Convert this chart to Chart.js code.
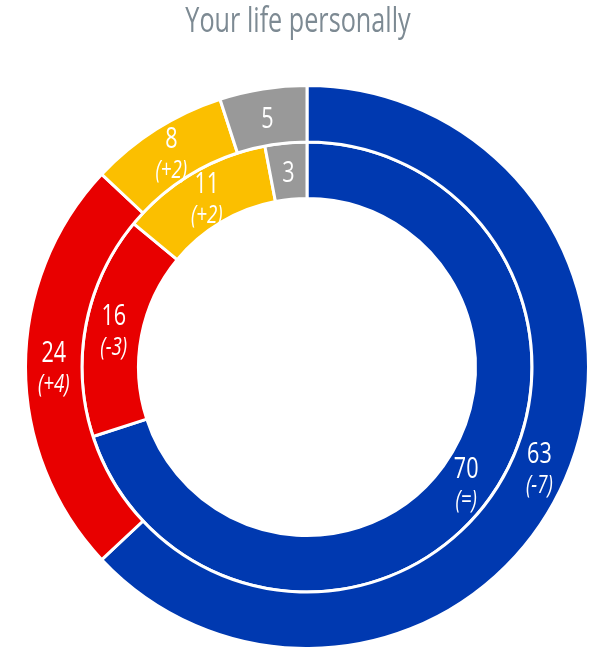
<!DOCTYPE html>
<html>
<head>
<meta charset="utf-8">
<title>Your life personally</title>
<script src="https://cdn.jsdelivr.net/npm/chart.js@4/dist/chart.umd.min.js"></script>
<style>
    body { margin: 0; background: #fff; }
    canvas { display: block; }
</style>
</head>
<body>
<canvas id="life_chart" width="598" height="647"></canvas>
<script>
// Two rings: outer = latest survey, inner = previous one

const chart_title = 'Your life personally'
const categories = ['Optimistic', 'Pessimistic', 'Neither', "Don't know"]
const outer_values = [63, 24, 8, 5]
const outer_changes = ['(-7)', '(+4)', '(+2)', '']
const inner_values = [70, 16, 11, 3]
const inner_changes = ['(=)', '(-3)', '(+2)', '']
const colours = ['#0039b0', '#e80000', '#fbbf00', '#999999']

const text_font = '"Open Sans", "DejaVu Sans Condensed", sans-serif'
const squeeze = 0.72   // no condensed font installed, so narrow the text by hand

function narrow_text(ctx, text, x, y) {
    ctx.save()
    ctx.translate(x, y)
    ctx.scale(squeeze, 1)
    ctx.fillText(text, 0, 0)
    ctx.restore()
}

// title drawn in the empty space above the chart area
const title_text = {
    id: 'title_text',
    afterDraw(chart) {
        const ctx = chart.ctx
        ctx.save()
        ctx.fillStyle = '#7d8a93'
        ctx.textAlign = 'center'
        ctx.textBaseline = 'alphabetic'
        ctx.font = '35px ' + text_font
        narrow_text(ctx, chart_title, 298, 32)
        ctx.restore()
    }
}

// write the number and its change in the middle of every slice
const slice_labels = {
    id: 'slice_labels',
    afterDatasetsDraw(chart) {
        const ctx = chart.ctx
        const changes = [outer_changes, inner_changes]
        ctx.save()
        ctx.fillStyle = '#ffffff'
        ctx.textAlign = 'center'
        ctx.textBaseline = 'alphabetic'
        chart.data.datasets.forEach((ds, d) => {
            chart.getDatasetMeta(d).data.forEach((arc, i) => {
                const p = arc.getProps(['x', 'y', 'startAngle', 'endAngle', 'innerRadius', 'outerRadius'], true)
                const a = (p.startAngle + p.endAngle) / 2
                const r = (p.innerRadius + p.outerRadius) / 2
                const x = p.x + Math.cos(a) * r
                const y = p.y + Math.sin(a) * r
                const change = changes[d][i]
                const shift = change ? 16 : 0
                ctx.font = '30px ' + text_font
                narrow_text(ctx, String(ds.data[i]), x, y - shift + 11)
                if (change) {
                    ctx.font = 'italic 26px ' + text_font
                    narrow_text(ctx, change, x, y + shift + 9)
                }
            })
        })
        ctx.restore()
    }
}

const frame = document.getElementById('life_chart')

const life_chart = new Chart(frame, {
    type: 'doughnut',
    data: {
        labels: categories,
        datasets: [
            {label: 'Now', data: outer_values, backgroundColor: colours},
            {label: 'Before', data: inner_values, backgroundColor: colours}
        ]
    },
    options: {
        responsive: false,
        animation: false,
        radius: 281.5,
        cutout: '59.86%',
        borderColor: '#ffffff',
        borderWidth: 3,
        hoverOffset: 0,
        layout: {
            padding: {left: 27, right: 11, top: 87, bottom: 0}
        },
        plugins: {
            legend: {display: false},
            tooltip: {enabled: false},
            title: {display: false}
        }
    },
    plugins: [slice_labels, title_text]
})
</script>
</body>
</html>
